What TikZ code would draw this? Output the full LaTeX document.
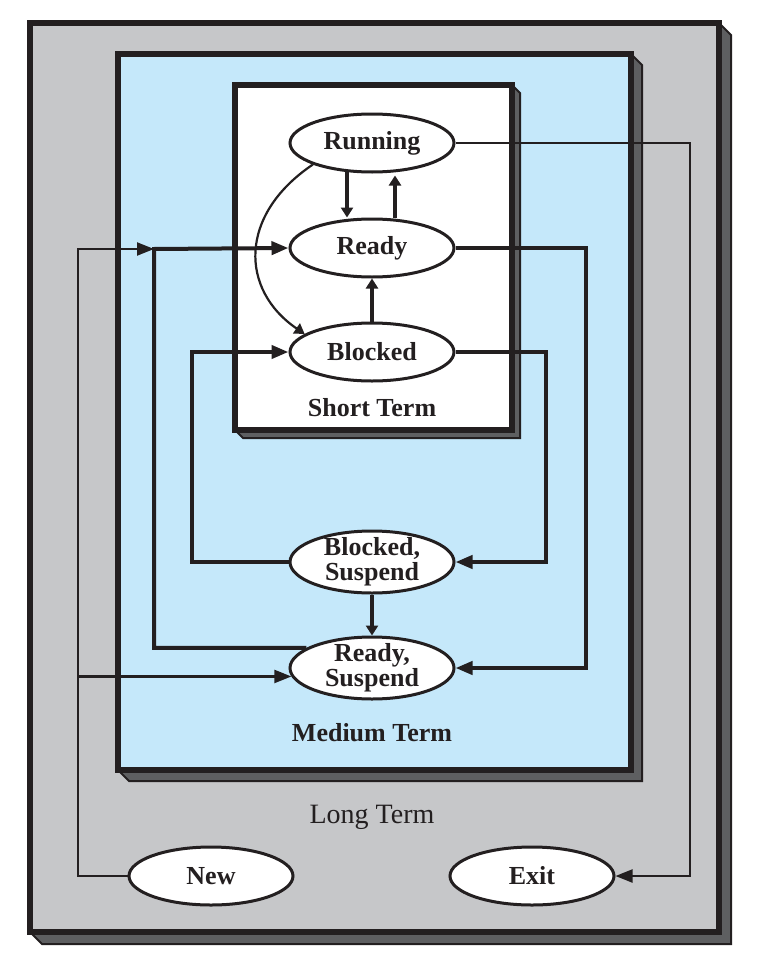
\documentclass[tikz,border=0pt]{standalone}
\usepackage{fontspec}
\setmainfont{Liberation Serif}
\usetikzlibrary{arrows.meta, shapes.geometric, positioning, calc}
\definecolor{longgray}{RGB}{198,199,201}
\definecolor{mediumblue}{RGB}{197,232,250}
\definecolor{edgegray}{RGB}{94,95,97}
\definecolor{inkblack}{RGB}{35,31,32}

\begin{document}
\begin{tikzpicture}[x=0.5pt, y=-0.5pt,
    state/.style={ellipse, draw=inkblack, line width=1.5pt, fill=white,
      minimum width=82pt, minimum height=29pt, inner xsep=0pt, inner ysep=-3pt,
      align=center, text=inkblack, font=\bfseries\fontsize{13}{12.5}\selectfont},
    suspstate/.style={state, minimum height=31pt},
    termlabel/.style={text=inkblack, font=\bfseries\fontsize{13}{13}\selectfont},
    thickline/.style={draw=inkblack, line width=2pt},
    thinline/.style={draw=inkblack, line width=1.1pt},
    bigtip/.style={-{Triangle[length=8.5pt, width=6.5pt]}},
    smalltip/.style={-{Triangle[length=5pt, width=6pt]}}]
  \useasboundingbox (0,0) rectangle (756,969);

  % Long Term frame with its 3D edge
  \filldraw[fill=edgegray, draw=inkblack, line width=1pt]
    (719,23) -- (731,35) -- (731,944) -- (42,944) -- (30,932) -- cycle;
  \filldraw[fill=longgray, draw=inkblack, line width=2.8pt] (30,23) rectangle (719,932);

  % Medium Term frame
  \filldraw[fill=edgegray, draw=inkblack, line width=1pt]
    (631,54) -- (642,65) -- (642,781) -- (129,781) -- (118,770) -- cycle;
  \filldraw[fill=mediumblue, draw=inkblack, line width=2.8pt] (118,54) rectangle (631,770);

  % Short Term frame
  \filldraw[fill=edgegray, draw=inkblack, line width=1pt]
    (512,85) -- (520,93) -- (520,438) -- (243,438) -- (235,430) -- cycle;
  \filldraw[fill=white, draw=inkblack, line width=2.8pt] (235,85) rectangle (512,430);

  % Frame labels
  \node[termlabel] (shortlbl) at (372,408) {Short Term};
  \node[termlabel] (mediumlbl) at (372,733) {Medium Term};
  \node[termlabel, font=\fontsize{14}{14}\selectfont] (longlbl) at (372,817) {Long Term};

  % States
  \node[state] (Running) at (372,143) {Running};
  \node[state] (Ready) at (372,248) {Ready};
  \node[state] (Blocked) at (372,352) {Blocked};
  \node[suspstate] (BlockSusp) at (372,562) {Blocked,\\Suspend};
  \node[suspstate] (ReadySusp) at (372,668) {Ready,\\Suspend};
  \node[state] (New) at (211,876) {New};
  \node[state] (Exit) at (532,876) {Exit};

  % Routing points
  \coordinate (newrail) at (78,249);
  \coordinate (readyrail) at (154,249);
  \coordinate (exitrail) at (690,143);

  % Short term transitions
  \draw[thickline, smalltip] ([xshift=-12.5pt, yshift=1pt]Running.south) -- ([xshift=-12.5pt]Ready.north);
  \draw[thickline, smalltip] ([xshift=11.5pt]Ready.north) -- ([xshift=11.5pt, yshift=-1pt]Running.south);
  \draw[thickline, smalltip] (Blocked.north) -- (Ready.south);
  \draw[thinline, smalltip] (Running.200) .. controls (238,215) and (240,290) .. (Blocked.165);

  % Medium term transitions
  \draw[thickline, bigtip] (ReadySusp.163) -| (readyrail) -- (Ready.west);
  \draw[thickline, bigtip] (Blocked.east) -- ++(90,0) |- (BlockSusp.east);
  \draw[thickline, bigtip] (BlockSusp.west) -- ++(-97,0) |- (Blocked.west);
  \draw[thickline, bigtip] (Ready.east) -- ++(130,0) |- (ReadySusp.east);
  \draw[thickline, smalltip] (BlockSusp.south) -- (ReadySusp.north);

  % Long term transitions
  \draw[thinline, bigtip] (New.west) -| (newrail) -- (readyrail);
  \draw[thinline, bigtip] (newrail |- ReadySusp.186) -- (ReadySusp.186);
  \draw[thinline, bigtip] (Running.east) -- (exitrail) |- (Exit.east);
\end{tikzpicture}
\end{document}
